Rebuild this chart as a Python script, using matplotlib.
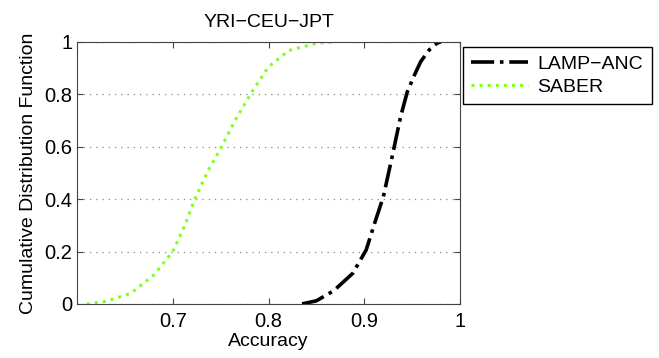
import numpy as np
import matplotlib
matplotlib.use('Agg')
import matplotlib.pyplot as plt

plt.rcParams['font.family'] = ['Liberation Sans', 'DejaVu Sans']

# data
saber_acc = [0.610, 0.630, 0.656, 0.680, 0.700, 0.712, 0.723, 0.737, 0.751,
             0.765, 0.781, 0.800, 0.821, 0.850, 0.869]
saber_cdf = [0.0, 0.01, 0.04, 0.11, 0.20, 0.295, 0.40, 0.51, 0.60,
             0.70, 0.80, 0.905, 0.967, 0.995, 1.0]

lamp_acc = [0.835, 0.850, 0.868, 0.888, 0.902, 0.911, 0.920, 0.929, 0.938,
            0.945, 0.952, 0.959, 0.968, 0.976, 0.980]
lamp_cdf = [0.0, 0.012, 0.05, 0.117, 0.206, 0.31, 0.41, 0.56, 0.715,
            0.81, 0.87, 0.925, 0.97, 0.995, 1.0]

xticks = [0.7, 0.8, 0.9, 1.0]
xtick_labels = ['0.7', '0.8', '0.9', '1']
yticks = [0, 0.2, 0.4, 0.6, 0.8, 1.0]
ytick_labels = ['0', '0.2', '0.4', '0.6', '0.8', '1']

#%%
fig = plt.figure(figsize=(6.59, 3.58), dpi=100)
ax = fig.add_axes([0.117, 0.151, 0.581, 0.732])

ax.plot(lamp_acc, lamp_cdf, color='black', linestyle='-.', linewidth=2.6,
        label='LAMP\u2212ANC')
ax.plot(saber_acc, saber_cdf, color='#80ff20', linestyle=':', linewidth=2.2,
        label='SABER')

ax.set_xlim(0.6, 1.0)
ax.set_ylim(0, 1)
ax.set_xticks(xticks)
ax.set_xticklabels(xtick_labels)
ax.set_yticks(yticks)
ax.set_yticklabels(ytick_labels)
ax.tick_params(direction='in', top=True, right=True, labelsize=14.5,
               length=4, color='#444444')
ax.tick_params(axis='x', pad=6)
for s in ax.spines.values():
    s.set_color('#444444')

ax.yaxis.grid(True, linestyle=(0, (1, 4)), color='#888888', linewidth=0.9)

ax.set_title('YRI\u2212CEU\u2212JPT', fontsize=14, pad=11)
ax.set_xlabel('Accuracy', fontsize=14, labelpad=1)
ax.set_ylabel('Cumulative Distribution Function', fontsize=14, labelpad=5)

fig.legend(loc='upper left', bbox_to_anchor=(0.702, 0.869),
           bbox_transform=fig.transFigure, borderaxespad=0,
           fancybox=False, edgecolor='black', framealpha=1, fontsize=14,
           handlelength=2.9, handletextpad=0.5, borderpad=0.45,
           labelspacing=0.25)

fig.savefig('out.png', dpi=100)
